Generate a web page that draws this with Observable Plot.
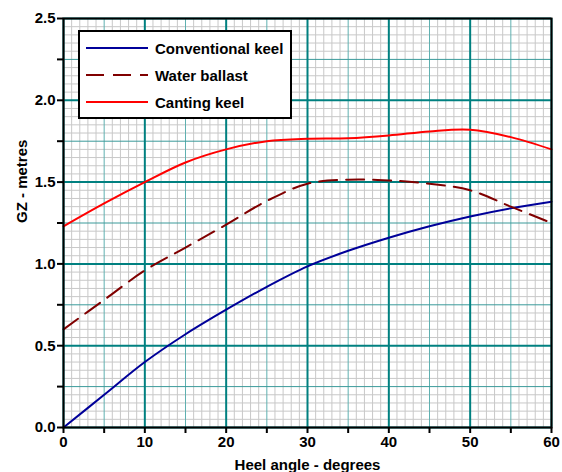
<!DOCTYPE html>
<html><head><meta charset="utf-8">
<script src="https://cdn.jsdelivr.net/npm/d3@7"></script>
<script src="https://cdn.jsdelivr.net/npm/@observablehq/plot@0.6"></script>
<style>
body{margin:0;background:#fff;font-family:"Liberation Sans",Arial,sans-serif;}
#wrap{position:relative;width:562px;height:472px;}
#legend{position:absolute;left:78px;top:30px;width:210px;height:85px;border:2px solid #000;background:#fff;font-weight:bold;font-size:15px;}
#legend .row{position:absolute;left:0;height:20px;display:flex;align-items:center;}
#legend svg{margin-left:6px;margin-right:7px;}
</style></head>
<body><div id="wrap"><div id="chart"></div>
<div id="legend"></div></div>
<script>
const heel = [0,5,10,15,20,25,30,35,40,45,50,55,60];
const conventional = [0.0,0.20,0.40,0.57,0.72,0.86,0.985,1.08,1.16,1.23,1.29,1.34,1.38];
const waterBallast = [0.60,0.78,0.96,1.10,1.24,1.385,1.49,1.515,1.51,1.49,1.45,1.35,1.25];
const canting = [1.23,1.37,1.50,1.62,1.70,1.75,1.765,1.768,1.785,1.81,1.82,1.775,1.70];
const seriesNames = ["Conventional keel","Water ballast","Canting keel"];
const seriesColors = ["#000099","#800000","#ff0000"];
const seriesDash = [null,"18,9",null];
const xTicks = [0,10,20,30,40,50,60];
const xMinorTicks = [5,15,25,35,45,55];
const yTicks = [0,0.5,1.0,1.5,2.0,2.5];
const yMinorTicks = [0.25,0.75,1.25,1.75,2.25];

const data = [];
[conventional, waterBallast, canting].forEach((arr,i)=>arr.forEach((v,j)=>data.push({x:heel[j], y:v, s:seriesNames[i]})));

const xGridMinor = d3.range(0,61,1).filter(v=>v%5!==0);
const yGridMinor = d3.range(0,51,1).filter(v=>v%5!==0).map(v=>v*0.05);

const chart = Plot.plot({
  width:562, height:472,
  marginLeft:63, marginRight:11, marginTop:18, marginBottom:45,
  style:{fontFamily:"Liberation Sans, Arial, sans-serif", fontWeight:"bold", fontSize:"15px", color:"#000", background:"#fff"},
  x:{domain:[0,60]},
  y:{domain:[0,2.5]},
  marks:[
    Plot.ruleX(xGridMinor,{stroke:"#c8c8c8",strokeWidth:1}),
    Plot.ruleY(yGridMinor,{stroke:"#c8c8c8",strokeWidth:1}),
    Plot.ruleX(xMinorTicks,{stroke:"#5fb0b0",strokeWidth:1}),
    Plot.ruleY(yMinorTicks,{stroke:"#3a9a9a",strokeWidth:1}),
    Plot.ruleX(xTicks,{stroke:"#008080",strokeWidth:2}),
    Plot.ruleY(yTicks,{stroke:"#008080",strokeWidth:2}),
    ...seriesNames.map((n,i)=>Plot.line(data.filter(d=>d.s===n),{x:"x",y:"y",stroke:seriesColors[i],strokeWidth:2,strokeDasharray:seriesDash[i],curve:"catmull-rom"})),
    Plot.frame({stroke:"#000",strokeWidth:2}),
    Plot.axisX(xTicks,{tickSize:6,tickPadding:3,strokeWidth:2,fontSize:15,fontWeight:"bold",tickFormat:d=>String(d),label:null}),
    Plot.axisX(xMinorTicks,{tickSize:6,strokeWidth:2,tickFormat:()=>"",label:null}),
    Plot.axisY(yTicks,{tickSize:6,tickPadding:2,strokeWidth:2,fontSize:15,fontWeight:"bold",tickFormat:d=>d.toFixed(1),label:null}),
    Plot.axisY(yMinorTicks,{tickSize:6,strokeWidth:2,tickFormat:()=>"",label:null}),
    Plot.text(["Heel angle - degrees"],{frameAnchor:"bottom",dy:42,fontSize:15,fontWeight:"bold",lineAnchor:"bottom"}),
    Plot.text(["GZ - metres"],{frameAnchor:"left",dx:-41,rotate:-90,fontSize:15,fontWeight:"bold"})
  ]
});
document.getElementById("chart").appendChild(chart);

const lg = document.getElementById("legend");
seriesNames.forEach((n,i)=>{
  const row = document.createElement("div");
  row.className="row";
  row.style.top = (6+i*27)+"px";
  row.innerHTML = `<svg width="62" height="6"><line x1="0" y1="3" x2="62" y2="3" stroke="${seriesColors[i]}" stroke-width="2" ${seriesDash[i]?`stroke-dasharray="${seriesDash[i]}"`:""}/></svg><span>${n}</span>`;
  lg.appendChild(row);
});
</script></body></html>
